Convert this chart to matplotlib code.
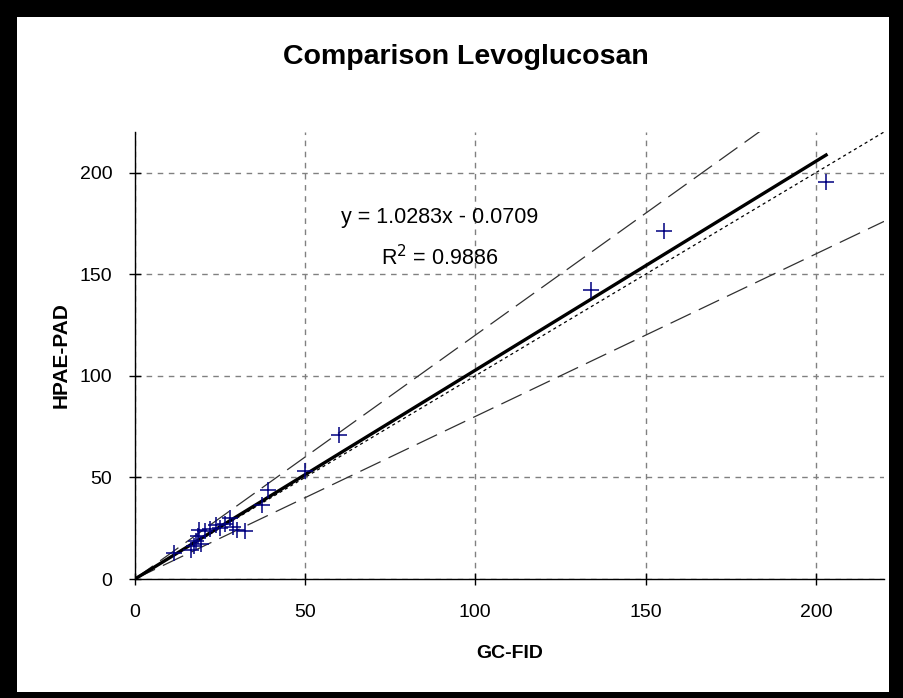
import matplotlib
matplotlib.use("Agg")
import matplotlib.pyplot as plt
from matplotlib.patches import Rectangle
import numpy as np

# Measured concentrations: GC-FID (x) vs HPAE-PAD (y)
gc_fid = [11.5, 16.5, 17.5, 18.0, 18.5, 19.0, 19.5, 20.5, 22.0, 24.0, 25.0,
          26.5, 28.0, 29.0, 30.0, 32.5, 37.5, 39.0, 50.0, 60.0, 134.0, 155.5, 203.0]
hpae_pad = [13.0, 14.5, 16.0, 18.5, 21.0, 24.0, 17.0, 23.5, 24.5, 26.5, 25.0,
            27.0, 30.0, 25.5, 24.0, 23.5, 36.5, 44.0, 53.0, 71.0, 142.0, 171.5, 195.5]

# Linear fit reported on the chart
slope = 1.0283
intercept = -0.0709
r_squared = 0.9886

# Reference lines: 1:1 and +/-20 %
ref_factors = [1.2, 0.8]

x_ticks = [0, 50, 100, 150, 200]
y_ticks = [0, 50, 100, 150, 200]
x_max = 220
y_max = 220

plt.rcParams['font.family'] = ['Liberation Sans', 'DejaVu Sans']

W, H = 904, 698
fig = plt.figure(figsize=(W / 100, H / 100), dpi=100)
fig.patch.set_facecolor('white')

ax = fig.add_axes([134.7 / W, 1 - 579 / H, (884 - 134.7) / W, (579 - 132) / H])
ax.set_xlim(0, x_max)
ax.set_ylim(0, y_max)

# grid
ax.set_xticks(x_ticks)
ax.set_yticks(y_ticks)
ax.grid(True, color='#808080', linestyle=(0, (4, 4)), linewidth=1.0)
ax.set_axisbelow(True)

# 1:1 line
xr = np.array([0, x_max])
ax.plot(xr, xr, color='black', linestyle=(0, (2.5, 2.5)), linewidth=0.9, zorder=3)

# +/-20 % lines
for f in ref_factors:
    ax.plot(xr, f * xr, color='#303030', linestyle=(0, (18, 7)), linewidth=0.9, zorder=3)

# regression line over the data range
xf = np.array([0, max(gc_fid)])
ax.plot(xf, slope * xf + intercept, color='black', linewidth=2.4, zorder=4)

# data points
ax.plot(gc_fid, hpae_pad, linestyle='none', marker='+', markersize=12,
        markeredgewidth=1.1, color='#000080', zorder=5)

ax.text(89.5, 178, f"y = {slope:.4f}x - {abs(intercept):.4f}", ha='center', va='center',
        fontsize=15.5, color='black', zorder=6)
ax.text(89.5, 158, f"R$^2$ = {r_squared:.4f}", ha='center', va='center',
        fontsize=15.5, color='black', zorder=6)

for s in ['top', 'right']:
    ax.spines[s].set_visible(False)
for s in ['left', 'bottom']:
    ax.spines[s].set_color('black')
    ax.spines[s].set_linewidth(1.0)

ax.tick_params(direction='inout', length=8, width=1.0, labelsize=14, colors='black')
ax.tick_params(axis='x', pad=14)
ax.tick_params(axis='y', pad=12)
ax.set_xlabel('GC-FID', fontsize=14, fontweight='bold', labelpad=17)
ax.set_ylabel('HPAE-PAD', fontsize=15, fontweight='bold', labelpad=7)

fig.text(466 / W, 1 - 57 / H, 'Comparison Levoglucosan', ha='center', va='center',
         fontsize=20.5, fontweight='bold')

# black frame around the chart
frame = [(0, 0, 17, H), (0, H - 17, W, 17), (889, 0, W - 889, H), (0, 0, W, 6)]
for (x0, y0, w, h) in frame:
    fig.patches.append(Rectangle((x0 / W, y0 / H), w / W, h / H, transform=fig.transFigure,
                                 facecolor='black', edgecolor='none', zorder=10))

fig.savefig('out.png', dpi=100, facecolor='white')
